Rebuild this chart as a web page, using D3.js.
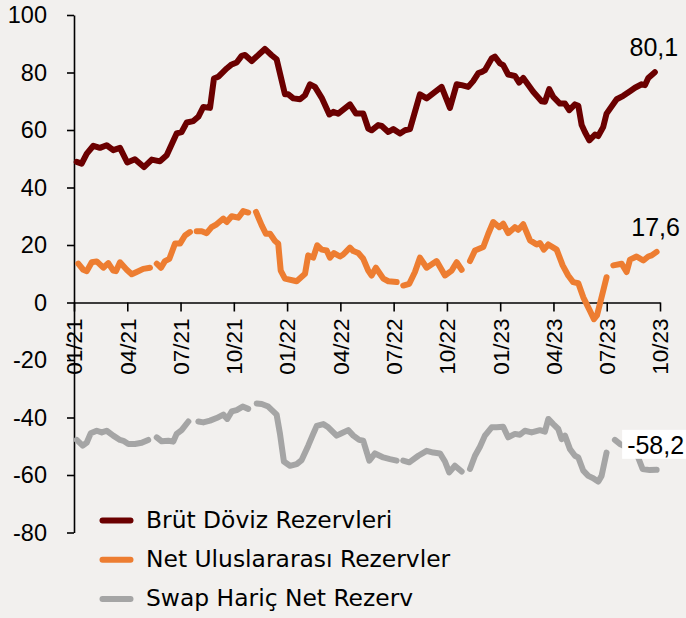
<!DOCTYPE html>
<html>
<head>
<meta charset="utf-8">
<script src="https://cdn.jsdelivr.net/npm/d3@7"></script>
<style>
  html, body { margin: 0; padding: 0; background: #f2f0ee; }
  svg { display: block; }
</style>
</head>
<body>
<svg id="chart" width="686" height="618"></svg>
<script>
// x values are months since Jan 2021 (fractional), values in billion USD
const tickMonths = [0, 3, 6, 9, 12, 15, 18, 21, 24, 27, 30, 33];
const tickLabels = ["01/21","04/21","07/21","10/21","01/22","04/22","07/22","10/22","01/23","04/23","07/23","10/23"];
const yTicks = [-80, -60, -40, -20, 0, 20, 40, 60, 80, 100];
const seriesNames = ["Brüt Döviz Rezervleri", "Net Uluslararası Rezervler", "Swap Hariç Net Rezerv"];
const seriesColors = ["#6b0000", "#ed7d31", "#a5a5a5"];
const endLabels = ["80,1", "17,6", "-58,2"];

const brut = [
 [0.15,48.9],[0.43,48.3],[0.72,51.8],[1.09,54.5],[1.46,53.8],[1.84,54.7],[2.21,53],[2.59,53.8],[3.00,48.7],[3.43,49.8],
 [3.94,47.1],[4.38,49.7],[4.84,49.1],[5.22,51.2],[5.78,58.8],[6.06,59.3],[6.35,62.6],[6.72,63.1],[7.00,64.6],[7.28,68],
 [7.66,67.7],[7.88,77.9],[8.12,78.5],[8.60,81.4],[8.88,82.8],[9.16,83.5],[9.44,85.8],[9.63,86.1],[10.01,84],[10.47,86.6],
 [10.75,88.2],[11.13,86],[11.41,84.6],[11.88,72.4],[12.07,72.4],[12.35,71],[12.73,70.7],[13.01,72.1],[13.29,75.9],[13.57,75],
 [13.95,71.2],[14.38,65.4],[14.60,66.3],[14.88,65.7],[15.54,68.9],[15.88,65.7],[16.29,65.7],[16.57,60.5],[16.76,59.9],[17.13,61.7],
 [17.33,61.4],[17.70,59.3],[17.98,60.3],[18.36,58.8],[18.64,59.9],[18.92,60.3],[19.48,72.4],[19.86,71],[20.70,75],[21.17,67.7],
 [21.55,75.9],[21.83,75.6],[22.20,75],[22.48,77],[22.77,79.8],[22.97,80.2],[23.14,80.8],[23.52,84.9],[23.70,85.5],[23.99,83.2],
 [24.17,82.6],[24.45,79.3],[24.83,78.8],[25.07,76.5],[25.30,78.1],[25.86,73.3],[26.33,70],[26.52,69.8],[26.76,74.2],[26.99,71.5],
 [27.36,69.2],[27.65,69.2],[27.89,66.9],[28.21,68.9],[28.40,68.4],[28.59,61.7],[28.77,59.3],[29.02,56.4],[29.34,58.4],[29.52,57.9],
 [29.80,61],[29.99,65.7],[30.56,70.7],[30.93,71.9],[31.31,73.5],[31.59,74.7],[31.97,75.9],[32.15,75.6],[32.34,78.1],[32.71,80.1]
];

const netUlus = [
 [0.24,13.5],[0.52,11.4],[0.72,10.9],[1.00,14.0],[1.28,14.3],[1.65,12.1],[1.93,13.7],[2.21,11.1],[2.36,10.9],[2.59,14.0],
 [2.97,11.4],[3.25,9.8],[3.53,10.6],[3.90,11.7],[4.28,12.1],[4.47,null],
 [4.66,13.5],[4.90,12.1],[5.12,14.4],[5.37,15.2],[5.69,20.5],[5.97,20.5],[6.25,23.3],[6.53,24.5],[6.72,null],
 [6.91,24.8],[7.19,24.8],[7.47,24.1],[7.75,26.2],[8.03,27.2],[8.41,29.2],[8.60,28],[8.88,30],[9.25,29.5],[9.53,31.8],[9.81,31.3],[10.03,null],
 [10.25,31.5],[10.57,26.8],[10.81,23.9],[11.04,23.9],[11.32,21.4],[11.50,20.5],[11.64,11.1],[11.88,8.3],[12.54,7.4],[13.01,10],
 [13.19,16.4],[13.47,15.6],[13.70,19.9],[13.95,18.4],[14.23,18.1],[14.41,15.6],[14.64,17.2],[14.98,16],[15.16,16.7],[15.54,19.1],
 [15.73,17.9],[16.01,17.2],[16.29,15.2],[16.57,11.1],[16.76,9.4],[17.00,12.1],[17.42,8.3],[17.70,7.4],[18.17,7.1],[18.36,null],
 [18.54,5.9],[18.88,6.5],[19.20,10.6],[19.48,15.6],[19.86,12.1],[20.42,14.4],[20.89,9.4],[21.27,11.1],[21.55,14],[21.83,11.4],[22.06,null],
 [22.30,14.4],[22.58,18.1],[23.05,19.3],[23.33,23.9],[23.61,28],[23.95,26.2],[24.17,27.4],[24.45,24.1],[24.83,26.2],[25.02,25.3],
 [25.30,27.2],[25.68,21.6],[26.05,20.2],[26.24,20.7],[26.46,18.4],[26.71,20.2],[27.18,18.4],[27.52,12.9],[27.83,9.4],[28.11,7.1],
 [28.40,6.7],[28.68,1.8],[29.05,-2.8],[29.28,-5.8],[29.45,-4.5],[29.71,1.8],[29.99,8.8],[30.18,null],
 [30.37,12.9],[30.84,13.5],[31.12,10.6],[31.31,14.9],[31.68,16],[32.06,14.6],[32.34,16],[32.53,16.4],[32.81,17.6]
];

const swapHaric = [
 [0.15,-47.8],[0.49,-49.8],[0.72,-48.7],[0.94,-45.5],[1.28,-44.6],[1.56,-45.2],[1.84,-44.6],[2.21,-46.3],[2.59,-47.8],[2.78,-48.1],
 [3.06,-49.2],[3.43,-49.2],[3.81,-48.8],[4.18,-47.8],[4.42,null],
 [4.66,-46.9],[4.94,-48.3],[5.31,-48.1],[5.59,-48.4],[5.78,-45.7],[6.06,-44.4],[6.44,-41.4],[6.72,null],
 [7.00,-41.4],[7.28,-41.7],[7.66,-41.1],[8.03,-40.2],[8.41,-39],[8.63,-40.5],[8.88,-37.9],[9.16,-37.4],[9.50,-36.2],[9.81,-37],[10.05,null],
 [10.29,-35.1],[10.57,-35.3],[10.94,-36.2],[11.41,-39],[11.60,-45.7],[11.82,-55.3],[12.16,-56.8],[12.54,-56.2],[12.82,-54.8],[13.19,-49.8],
 [13.47,-45.7],[13.67,-42.9],[14.04,-42.3],[14.32,-43.4],[14.79,-46.3],[15.07,-45.5],[15.44,-44.4],[15.73,-46.3],[16.06,-47.8],[16.29,-48.1],
 [16.63,-55],[16.95,-52.5],[17.42,-53.9],[17.79,-54.5],[18.17,-55],[18.36,null],
 [18.54,-55],[18.88,-55.6],[19.39,-53.3],[19.86,-51.6],[20.23,-52.2],[20.61,-52.5],[20.89,-55.3],[21.13,-59.1],[21.45,-56.8],[21.83,-58.8],[22.06,null],
 [22.30,-57.9],[22.58,-53.3],[22.86,-50.2],[23.14,-46.3],[23.52,-43.4],[23.80,-43.4],[24.17,-43.2],[24.45,-46.9],[24.83,-45.7],[25.11,-46],
 [25.39,-44.6],[25.77,-45.2],[26.24,-44.4],[26.52,-44.9],[26.71,-40.5],[26.99,-42.3],[27.27,-44],[27.46,-47.5],[27.65,-46.3],[27.93,-51],
 [28.21,-53.3],[28.40,-53.9],[28.68,-58.5],[28.96,-60.3],[29.24,-61.1],[29.52,-62.3],[29.71,-60.3],[29.99,-52.2],[30.22,null],
 [30.46,-47.8],[30.74,-49.2],[31.19,-50.5],[31.53,-52],[31.77,-53.9],[32.02,-57.9],[32.43,-58.3],[32.81,-58.2]
];

const allSeries = [brut, netUlus, swapHaric];

const NUMFONT = "'Liberation Sans', sans-serif";
const TXTFONT = "'DejaVu Sans', sans-serif";
const svg = d3.select("#chart");

svg.append("rect").attr("width", 686).attr("height", 618).attr("fill", "#f2f0ee");

const x = d3.scaleLinear().domain([0, 33]).range([74, 660]);
const y = d3.scaleLinear().domain([-80, 100]).range([532.5, 15]);

// Y axis
const yAxis = svg.append("g")
  .attr("transform", `translate(${x(0)},0)`)
  .call(d3.axisLeft(y).tickValues(yTicks).tickSize(7).tickSizeOuter(0).tickPadding(20).tickFormat(d => String(d)));
yAxis.selectAll("path, line").attr("stroke", "#000").attr("stroke-width", 1.6);
yAxis.selectAll("text").attr("font-family", NUMFONT).attr("font-size", 23.5).attr("fill", "#000");

// X axis at y=0
const xAxis = svg.append("g")
  .attr("transform", `translate(0,${y(0)})`)
  .call(d3.axisBottom(x).tickValues(tickMonths).tickSize(9).tickSizeOuter(0).tickFormat((d, i) => tickLabels[i]));
xAxis.selectAll("path, line").attr("stroke", "#000").attr("stroke-width", 1.6);
xAxis.selectAll("text")
  .attr("font-family", NUMFONT).attr("font-size", 22.5).attr("fill", "#000")
  .attr("transform", "rotate(-90)")
  .attr("x", -16).attr("y", 0).attr("dy", "0.35em")
  .style("text-anchor", "end");

// Lines
const line = d3.line()
  .defined(d => d[1] !== null)
  .x(d => x(d[0]))
  .y(d => y(d[1]));

allSeries.forEach((s, i) => {
  svg.append("path")
    .datum(s)
    .attr("d", line)
    .attr("fill", "none")
    .attr("stroke", seriesColors[i])
    .attr("stroke-width", 6)
    .attr("stroke-linejoin", "round")
    .attr("stroke-linecap", "round");
});

// End labels
allSeries.forEach((s, i) => {
  const last = s[s.length - 1];
  const g = svg.append("g");
  const t = g.append("text")
    .attr("x", x(last[0]) - 1)
    .attr("y", y(last[1]) - 16)
    .attr("text-anchor", "middle")
    .attr("font-family", NUMFONT)
    .attr("font-size", 25)
    .attr("fill", "#000")
    .text(endLabels[i]);
  if (i === 2) {
    const bb = t.node().getBBox();
    g.insert("rect", "text")
      .attr("x", bb.x - 5)
      .attr("y", y(last[1]) - 40)
      .attr("width", 700 - bb.x)
      .attr("height", 29)
      .attr("fill", "#ffffff");
  }
});

// Legend
const legend = svg.append("g");
seriesNames.forEach((name, i) => {
  const ly = 520.5 + i * 39.3;
  legend.append("line")
    .attr("x1", 102.5).attr("x2", 130.5)
    .attr("y1", ly).attr("y2", ly)
    .attr("stroke", seriesColors[i])
    .attr("stroke-width", 6)
    .attr("stroke-linecap", "round");
  legend.append("text")
    .attr("x", 146)
    .attr("y", ly + 7)
    .attr("font-family", TXTFONT)
    .attr("font-size", 23.4)
    .attr("fill", "#000")
    .text(name);
});
</script>
</body>
</html>
